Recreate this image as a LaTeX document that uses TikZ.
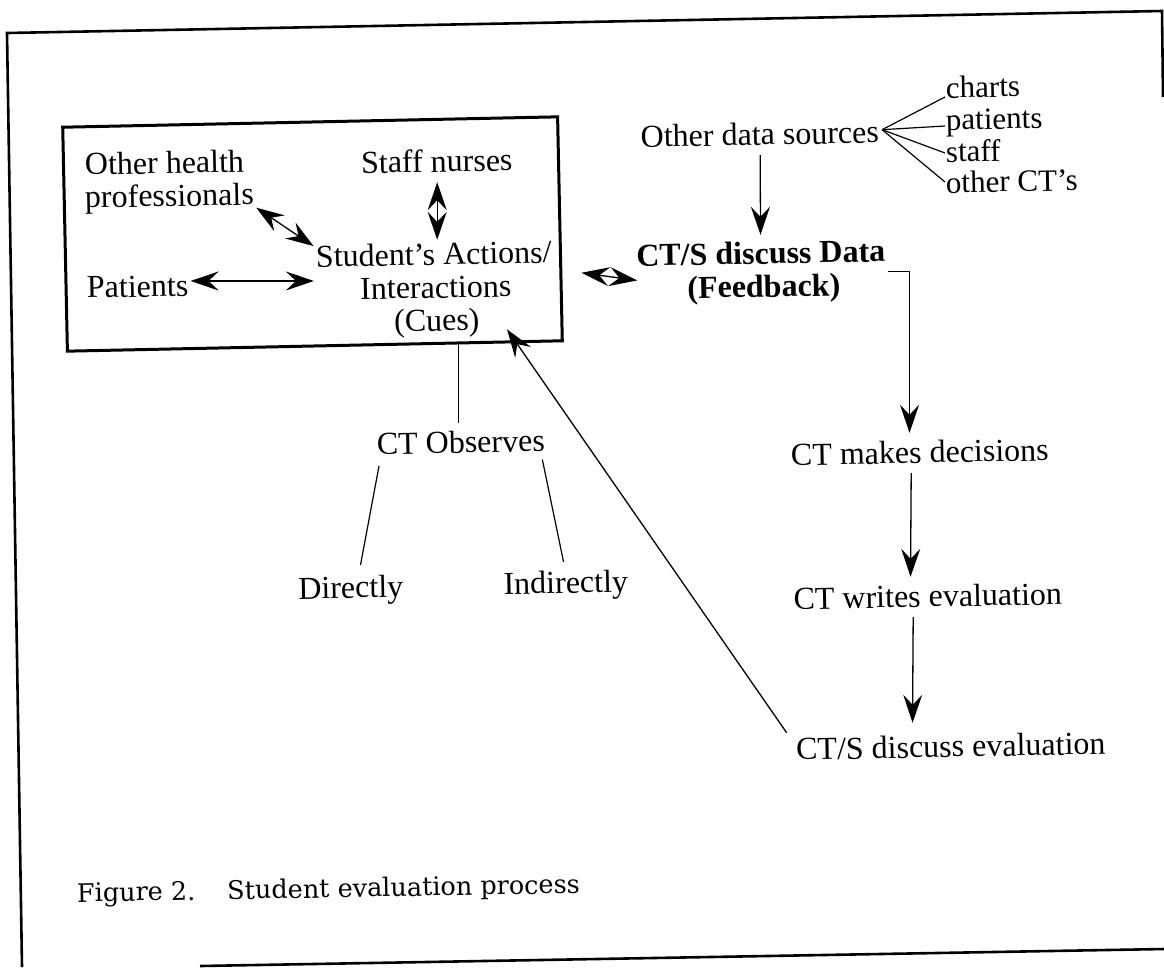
\documentclass[tikz,border=0pt]{standalone}
\usepackage{fontspec}
\setmainfont{Liberation Serif}
\newfontfamily\capfont{DejaVu Serif}
\usetikzlibrary{arrows.meta,calc}
\begin{document}
\begin{tikzpicture}[x=1pt,y=-1pt,
  lbl/.style={font=\fontsize{32}{33}\selectfont, inner sep=2pt,
              text height=23pt, text depth=8pt, rotate=1.1, anchor=base},
  lblw/.style={lbl, anchor=base west},
  item/.style={lblw, font=\fontsize{31}{32}\selectfont, inner sep=0pt,
               text height=19pt, text depth=5pt},
  bold/.style={lbl, font=\fontsize{32}{33}\selectfont\bfseries},
  head/.tip={Stealth[length=28pt,width=19pt,inset=10pt]},
  arr/.style={-head, line width=1.3pt},
  dbl/.style={head-head, line width=1.3pt},
  link/.style={line width=1.2pt},
  frame/.style={line width=2.6pt}]

\useasboundingbox (0,0) rectangle (1164,967);

% outer frame of the figure
\draw[frame] (1163,97) -- (1162,11) -- (7,33) -- (22,967);
\draw[frame] (200,966) -- (1164,949);

% box around the student's interactions
\node[draw, line width=3pt, rotate=1.2, minimum width=495pt, minimum height=224pt,
      inner sep=0pt] (box) at (312.5,234) {};

% labels inside the box
\node[lblw] (oh1) at (83,175) {Other health};
\node[lblw] (oh2) at (83,208) {professionals};
\node[lbl]  (sn)  at (437,172) {Staff nurses};
\node[lbl]  (sa1) at (434,265) {Student’s Actions/};
\node[lbl]  (sa2) at (436,298) {Interactions};
\node[lbl]  (sa3) at (437,331) {(Cues)};
\node[lblw] (pa)  at (85,298) {Patients};

% data sources and feedback
\node[lbl]  (ods) at (760,145) {Other data sources};
\node[item] (ch)  at (946,98)  {charts};
\node[item] (pt)  at (946,130) {patients};
\node[item] (st)  at (946,162) {staff};
\node[item] (oc)  at (946,193) {other CT’s};
\node[bold] (fb1) at (761,264) {CT/S discuss Data};
\node[bold] (fb2) at (764,297) {(Feedback)};

% observation branch
\node[lbl] (cto) at (461,453) {CT Observes};
\node[lbl] (dir) at (351,598) {Directly};
\node[lbl] (ind) at (566,593) {Indirectly};

% evaluation chain
\node[lbl] (cmd) at (920,463) {CT makes decisions};
\node[lbl] (cwe) at (928,607) {CT writes evaluation};
\node[lbl] (cde) at (951,757) {CT/S discuss evaluation};

% caption
\node[anchor=base west, inner sep=0pt, rotate=1.0,
      font=\capfont\fontsize{25.5}{26}\selectfont] (cap) at (77,902)
      {Figure 2.\hspace{32pt}Student evaluation process};

% arrows inside the box
\draw[dbl] ([yshift=-3pt]oh2.base east) -- ([yshift=-4pt]sa1.north west);
\draw[dbl] (sn.south) -- (sn.south |- sa1.north);
\draw[dbl] ([yshift=7.5pt]pa.east) -- ([yshift=7.5pt]pa.east -| sa1.west);

% box <-> feedback
\draw[dbl] ([shift={(20pt,-44pt)}]box.east) -- ([shift={(3pt,-21.5pt)}]fb1.west);

% other data sources
\draw[arr] (ods.south) -- ([yshift=4pt]fb1.north);
\draw[link] ([shift={(1pt,5.5pt)}]ods.east) -- ([shift={(-1pt,1pt)}]ch.base west);
\draw[link] ([shift={(1pt,5.5pt)}]ods.east) -- ([shift={(-1pt,4pt)}]pt.base west);
\draw[link] ([shift={(1pt,5.5pt)}]ods.east) -- ([shift={(-1pt,9pt)}]st.base west);
\draw[link] ([shift={(1pt,5.5pt)}]ods.east) -- ([shift={(-1pt,11pt)}]oc.base west);

% feedback -> decisions -> evaluation -> discussion
\draw[arr] ([yshift=-10pt]fb1.base east) -| ([shift={(-10pt,5pt)}]cmd.north);
\draw[arr] ([xshift=-9pt]cmd.south) -- ([shift={(-17pt,5pt)}]cwe.north);
\draw[arr] ([xshift=-15pt]cwe.south) -- ([shift={(-38pt,9pt)}]cde.north);
\draw[arr] ([shift={(-7pt,2pt)}]cde.north west) -- ([shift={(25pt,11pt)}]sa3.south east);

% observation links
\draw[link] ([shift={(-2pt,5pt)}]cto.north) -- ([shift={(-2pt,84pt)}]cto.north);
\draw[link] ([shift={(4pt,-1pt)}]cto.south west) -- ([shift={(10pt,8pt)}]dir.north);
\draw[link] ([shift={(-5pt,2pt)}]cto.south east) -- ([shift={(-2pt,6pt)}]ind.north);
\end{tikzpicture}
\end{document}
